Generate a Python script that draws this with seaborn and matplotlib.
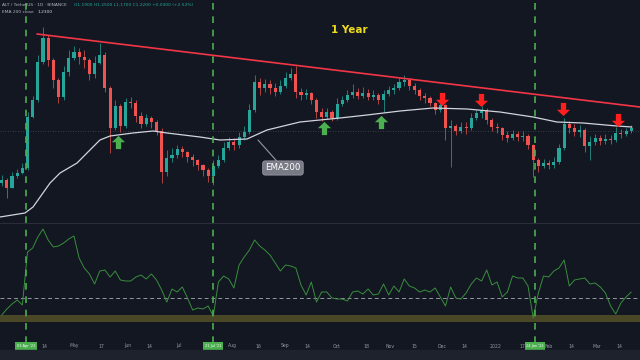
import numpy as np
import pandas as pd
import matplotlib
matplotlib.use("Agg")
import matplotlib.pyplot as plt
from matplotlib.path import Path
from matplotlib.patches import Rectangle
from matplotlib.lines import Line2D
import seaborn as sns

# --- colours ---
BG = "#131722"
UP = "#26a69a"
DOWN = "#ef5350"
EVENT_GREEN = "#4caf50"

# --- time axis: day numbers counted from START ---
START = pd.Timestamp("2021-03-19")
X_MAX = 372.1

# --- 3-day candles ---
FIRST_OPEN = 0.67
CLOSES = [0.70, 0.62, 0.74, 0.77, 0.82, 1.33, 1.50, 1.88, 2.12, 1.90,
          1.70, 1.53, 1.78, 1.92, 1.98, 1.93, 1.90, 1.76, 1.87, 1.95,
          1.62, 1.22, 1.44, 1.24, 1.48, 1.47, 1.34, 1.26, 1.32, 1.28,
          1.19, 0.78, 0.92, 0.95, 1.01, 0.98, 0.93, 0.90, 0.85, 0.80,
          0.74, 0.84, 0.90, 1.02, 1.08, 1.05, 1.13, 1.18, 1.40, 1.68,
          1.62, 1.66, 1.62, 1.58, 1.64, 1.72, 1.76, 1.58, 1.55, 1.57,
          1.50, 1.38, 1.33, 1.38, 1.32, 1.46, 1.50, 1.55, 1.58, 1.54,
          1.57, 1.53, 1.55, 1.50, 1.56, 1.60, 1.62, 1.68, 1.70, 1.64,
          1.60, 1.54, 1.52, 1.47, 1.40, 1.45, 1.22, 1.24, 1.19, 1.23,
          1.22, 1.32, 1.37, 1.40, 1.30, 1.23, 1.22, 1.15, 1.12, 1.16,
          1.13, 1.14, 1.05, 0.90, 0.84, 0.87, 0.85, 0.88, 1.02, 1.26,
          1.22, 1.18, 1.20, 1.04, 1.08, 1.12, 1.09, 1.11, 1.10, 1.17,
          1.16, 1.19, 1.22]
HIGHS = [0.75, 0.72, 0.78, 0.81, 0.87, 1.38, 1.54, 1.95, 2.23, 2.15,
         1.92, 1.72, 1.84, 2.00, 2.04, 2.02, 2.00, 1.92, 1.94, 2.07,
         1.98, 1.64, 1.50, 1.46, 1.52, 1.53, 1.50, 1.38, 1.36, 1.34,
         1.30, 1.22, 1.00, 1.02, 1.05, 1.04, 0.99, 0.96, 0.91, 0.86,
         0.82, 0.90, 0.95, 1.08, 1.13, 1.12, 1.18, 1.24, 1.46, 1.75,
         1.72, 1.71, 1.70, 1.67, 1.70, 1.78, 1.82, 1.84, 1.62, 1.61,
         1.58, 1.52, 1.42, 1.42, 1.40, 1.52, 1.54, 1.60, 1.66, 1.62,
         1.63, 1.61, 1.60, 1.57, 1.60, 1.64, 1.66, 1.72, 1.75, 1.72,
         1.67, 1.62, 1.57, 1.54, 1.48, 1.50, 1.46, 1.30, 1.26, 1.28,
         1.28, 1.37, 1.40, 1.44, 1.42, 1.32, 1.27, 1.23, 1.19, 1.20,
         1.19, 1.19, 1.16, 1.06, 0.92, 0.91, 0.90, 0.93, 1.06, 1.32,
         1.29, 1.26, 1.25, 1.22, 1.14, 1.16, 1.15, 1.16, 1.15, 1.23,
         1.21, 1.22, 1.25]
LOWS = [0.64, 0.52, 0.68, 0.72, 0.76, 0.80, 1.32, 1.48, 1.86, 1.84,
        1.62, 1.47, 1.50, 1.74, 1.90, 1.86, 1.82, 1.70, 1.72, 1.86,
        1.58, 0.97, 1.20, 1.18, 1.22, 1.42, 1.28, 1.22, 1.24, 1.22,
        1.15, 0.67, 0.74, 0.88, 0.92, 0.93, 0.88, 0.84, 0.80, 0.74,
        0.68, 0.65, 0.82, 0.88, 1.00, 1.00, 1.02, 1.10, 1.16, 1.38,
        1.55, 1.58, 1.56, 1.54, 1.56, 1.62, 1.70, 1.52, 1.50, 1.51,
        1.46, 1.32, 1.29, 1.31, 1.29, 1.30, 1.44, 1.48, 1.52, 1.51,
        1.52, 1.50, 1.50, 1.46, 1.38, 1.54, 1.56, 1.60, 1.64, 1.60,
        1.56, 1.50, 1.47, 1.44, 1.36, 1.38, 1.10, 0.83, 1.15, 1.17,
        1.16, 1.20, 1.30, 1.32, 1.26, 1.19, 1.17, 1.10, 1.08, 1.10,
        1.09, 1.09, 1.01, 0.73, 0.78, 0.82, 0.81, 0.82, 0.86, 1.00,
        1.17, 1.14, 1.13, 0.98, 0.90, 1.05, 1.05, 1.06, 1.06, 1.08,
        1.12, 1.14, 1.17]

# --- lower pane oscillator (same dates as candles) ---
OSC = [7, 13, 18, 22, 17, 70, 74, 85, 93, 82,
       75, 76, 79, 83, 86, 64, 54, 48, 38, 51,
       52, 45, 51, 42, 41, 41, 45, 47, 43, 48,
       42, 32, 20, 33, 30, 35, 24, 12, 14, 13,
       16, 6, 40, 46, 43, 34, 57, 65, 72, 82,
       76, 72, 67, 59, 51, 57, 56, 54, 37, 27,
       40, 20, 30, 30, 24, 23, 23, 21, 30, 31,
       28, 33, 27, 28, 38, 27, 36, 30, 43, 36,
       34, 30, 32, 30, 34, 25, 16, 35, 24, 23,
       29, 38, 44, 41, 52, 37, 40, 25, 30, 46,
       44, 44, 36, 4, 29, 46, 45, 51, 54, 62,
       36, 42, 43, 44, 38, 39, 35, 29, 16, 8,
       19, 25, 30]
OSC_LEVEL = 24
OSC_BAND = (0, 7)

# --- EMA200 ---
EMA_DAYS = [0, 14.5, 19.2, 29.1, 34.9, 44.8, 52.3, 58.1, 64.0, 77.3, 89.0,
            97.1, 116.3, 127.9, 143.6, 155.2, 174.4, 186.0, 197.7, 213.4,
            232.6, 251.7, 271.5, 290.7, 309.9, 323.8, 339.0, 358.7, 367.4]
EMA_VALS = [0.33, 0.37, 0.43, 0.67, 0.77, 0.87, 1.00, 1.10, 1.14, 1.17, 1.19,
            1.17, 1.13, 1.10, 1.11, 1.20, 1.28, 1.30, 1.32, 1.35,
            1.39, 1.42, 1.41, 1.38, 1.33, 1.28, 1.27, 1.24, 1.23]
LAST_PRICE = 1.19

# --- drawings ---
TREND_DAYS = [21.5, 372.1]
TREND_PRICES = [2.16, 1.43]
UP_ARROW_DAYS = [68.6, 188.4, 221.5]
UP_ARROW_PRICES = [1.08, 1.22, 1.28]
DOWN_ARROW_DAYS = [257.0, 279.7, 327.3, 359.3]
DOWN_ARROW_PRICES = [1.51, 1.50, 1.41, 1.30]
EVENT_DATES = ["2021-04-03", "2021-07-21", "2022-01-24"]
EVENT_LABELS = ["03 Apr '21", "21 Jul '21", "24 Jan '22"]
TICK_DATES = ["2021-04-14", "2021-05-01", "2021-05-17", "2021-06-01", "2021-06-14",
              "2021-07-01", "2021-08-01", "2021-08-16", "2021-09-01", "2021-09-14",
              "2021-10-01", "2021-10-18", "2021-11-01", "2021-11-15", "2021-12-01",
              "2021-12-14", "2022-01-01", "2022-01-17", "2022-02-01", "2022-02-14",
              "2022-03-01", "2022-03-14"]
TICK_LABELS = ["14", "May", "17", "Jun", "14", "Jul", "Aug", "16", "Sep", "14",
               "Oct", "18", "Nov", "15", "Dec", "14", "2022", "17", "Feb", "14",
               "Mar", "14"]


def to_days(date_strings):
    return np.array([(pd.Timestamp(d) - START).days for d in date_strings], dtype=float)


sns.set_theme(style="dark", rc={"axes.facecolor": BG, "figure.facecolor": BG})

fig = plt.figure(figsize=(6.4, 3.6), dpi=100)
H = 360.0
ax_price = fig.add_axes([0, 138 / H, 1, 222 / H])
ax_osc = fig.add_axes([0, 36 / H, 1, 100 / H])
ax_time = fig.add_axes([0, 10 / H, 1, 26 / H])
ax_over = fig.add_axes([0, 17 / H, 1, 343 / H])
for ax in (ax_price, ax_osc, ax_time, ax_over):
    ax.set_xlim(0, X_MAX)
    ax.set_axis_off()
ax_price.set_ylim(0.28, 2.50)
ax_osc.set_ylim(-2, 98)
ax_time.set_ylim(0, 26)
ax_over.set_ylim(0, 1)

# bottom strip and pane separator
fig.patches.append(Rectangle((0, 0), 1, 10 / H, transform=fig.transFigure,
                             color="#1e222d", zorder=0))
fig.lines.append(Line2D([0, 1], [137 / H, 137 / H], transform=fig.transFigure,
                        color="#2a2e39", lw=0.8))

# --- candles ---
dates = pd.date_range(START + pd.Timedelta(days=1), periods=len(CLOSES), freq="3D")
days = np.array((dates - START).days, dtype=float)
closes = np.array(CLOSES)
opens = np.concatenate([[FIRST_OPEN], closes[:-1]])
highs = np.maximum(np.array(HIGHS), np.maximum(opens, closes))
lows = np.minimum(np.array(LOWS), np.minimum(opens, closes))
colors = np.where(closes >= opens, UP, DOWN)

ax_price.axhline(LAST_PRICE, color="#5d606b", lw=0.6, ls=(0, (1, 2)), alpha=0.7)
ax_price.vlines(days, lows, highs, colors=colors, lw=0.5, zorder=2)
ax_price.bar(days, np.maximum(np.abs(closes - opens), 0.008),
             bottom=np.minimum(opens, closes), width=1.8, color=colors,
             linewidth=0, zorder=3)

sns.lineplot(x=EMA_DAYS, y=EMA_VALS, ax=ax_price, color="#d1d4dc", lw=0.9,
             legend=False, zorder=4)
sns.lineplot(x=TREND_DAYS, y=TREND_PRICES, ax=ax_price, color="#f23645", lw=1.2,
             legend=False, zorder=4)

# arrows
arrow_up = Path([(0, 0.5), (0.5, 0.02), (0.2, 0.02), (0.2, -0.5), (-0.2, -0.5),
                 (-0.2, 0.02), (-0.5, 0.02), (0, 0.5)], closed=True)
arrow_down = Path([(x, -y) for x, y in arrow_up.vertices], closed=True)
ax_price.scatter(UP_ARROW_DAYS, UP_ARROW_PRICES, marker=arrow_up, s=90,
                 color=EVENT_GREEN, linewidths=0, zorder=6)
ax_price.scatter(DOWN_ARROW_DAYS, DOWN_ARROW_PRICES, marker=arrow_down, s=90,
                 color="#ff1f1f", linewidths=0, zorder=6)

ax_price.annotate("EMA200", xy=(150, 1.10), xytext=(164.5, 0.82),
                  ha="center", va="center", fontsize=6.2, color="white",
                  bbox=dict(boxstyle="round,pad=0.3", fc="#787b86", ec="#9598a1", lw=0.6),
                  arrowprops=dict(arrowstyle="-", color="#9598a1", lw=0.8,
                                  shrinkA=0, shrinkB=0), zorder=7)
ax_price.text(202.9, 2.20, "1 Year", ha="center", va="center", fontsize=7.5,
              fontweight="bold", color="#f0dc1e")

# --- oscillator pane ---
ax_osc.axhspan(OSC_BAND[0], OSC_BAND[1], color="#4a4727", lw=0)
ax_osc.axhline(OSC_LEVEL, color="#9598a1", lw=0.7, ls=(0, (4, 3)))
sns.lineplot(x=days, y=OSC, ax=ax_osc, color="#388e3c", lw=0.7, legend=False)

# --- events: dashed lines and date badges ---
ev_days = to_days(EVENT_DATES)
for d in ev_days:
    ax_over.axvline(d, color=EVENT_GREEN, lw=1.2, ls=(0, (4, 4)), zorder=8)

tick_days = to_days(TICK_DATES)
for d, lab in zip(tick_days, TICK_LABELS):
    ax_time.text(d, 4, lab, ha="center", va="center", fontsize=3.3, color="#9598a1")
for d, lab in zip(ev_days, EVENT_LABELS):
    ax_time.text(d, 4, lab, ha="center", va="center", fontsize=2.5, color="white",
                 bbox=dict(boxstyle="square,pad=0.45", fc=EVENT_GREEN, ec="none"))

# --- header ---
o, hh, ll, c = opens[-1], highs[-1], lows[-1], closes[-1]
chg = c - o
fig.text(0.003, 1 - 5 / H, "ALT / TetherUS · 1D · BINANCE", fontsize=3.2,
         color="#b2b5be", va="center")
fig.text(0.115, 1 - 5 / H,
         f"O{o:.4f} H{hh:.4f} L{ll:.4f} C{c:.4f} {chg:+.4f} ({chg / o * 100:+.2f}%)",
         fontsize=3.2, color=UP if chg >= 0 else DOWN, va="center")
fig.text(0.003, 1 - 12 / H, "EMA 200 close", fontsize=3.2, color="#b2b5be", va="center")
fig.text(0.058, 1 - 12 / H, f"{EMA_VALS[-1]:.4f}", fontsize=3.2, color="#d1d4dc",
         va="center")

fig.savefig("out.png", dpi=100, facecolor=BG)
